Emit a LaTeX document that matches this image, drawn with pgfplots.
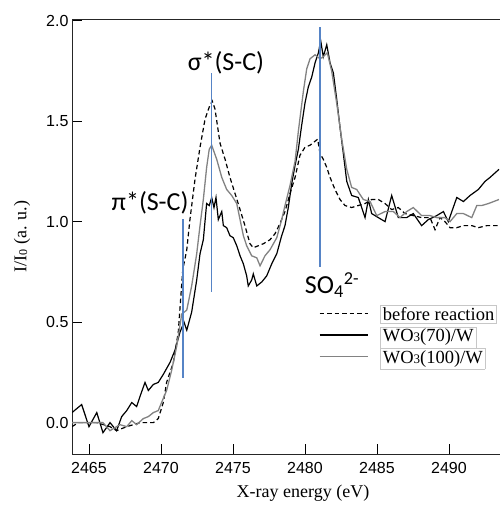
\documentclass[border=0pt]{standalone}
\usepackage{pgfplots}
\pgfplotsset{compat=1.18}
\usepackage{fontspec}
\setmainfont{Liberation Serif}
\newfontfamily\tickfont{Liberation Sans}
\newfontfamily\annfont{Carlito}
\definecolor{bl}{RGB}{86,132,198}
\definecolor{gr}{RGB}{130,130,130}
\setlength{\fboxsep}{2pt}
\setlength{\fboxrule}{0.5pt}
\begin{document}
\begin{tikzpicture}
\path[use as bounding box] (0,0) rectangle (499pt,508pt);
\begin{axis}[
  at={(72pt,54pt)}, anchor=south west,
  scale only axis, width=434.6pt, height=435pt,
  xmin=2463.82, xmax=2494.0, ymin=-0.156, ymax=2.008,
  xtick={2465,2470,2475,2480,2485,2490},
  ytick={0,0.5,1,1.5,2},
  xtick pos=bottom, ytick pos=left,
  tick align=inside, major tick length=10pt,
  every tick/.style={black, line width=0.9pt},
  axis line style={black!85, line width=0.9pt},
  tick label style={font=\tickfont\fontsize{16}{16}\selectfont},
  /pgf/number format/assume math mode=true,
  yticklabel style={/pgf/number format/.cd, fixed, fixed zerofill, precision=1},
  xticklabel style={/pgf/number format/1000 sep={}, yshift=-5pt},
  xlabel={X-ray energy (eV)},
  ylabel={I/I\raisebox{-0.05em}{\fontsize{12}{12}\selectfont 0} (a. u.)},
  label style={font=\fontsize{18}{18}\selectfont},
  xlabel style={at={(axis description cs:0.5315,0)}, anchor=north, yshift=-27pt},
  ylabel style={at={(axis description cs:-0.115,0.5)}, anchor=center},
  legend style={at={(axis cs:2493.33,0.586)}, anchor=north east, draw=none, fill=none,
    inner sep=0pt, row sep=4.5pt, column sep=12pt,
    font=\fontsize{18.5}{18.5}\selectfont, nodes={inner sep=0pt}},
  legend cell align=left,
  legend image code/.code={\draw[#1] (0pt,0pt) -- (48pt,0pt);},
]
% before reaction (dashed)
\addplot[black, line width=1.2pt, dash pattern=on 4.5pt off 3pt] coordinates {
(2463.82,-0.02) (2464.26,0.0) (2464.73,0.0) (2465.54,0.0) (2466.46,-0.02) (2466.92,-0.04)
(2467.62,-0.02) (2468.54,0.0) (2469.47,0.0) (2469.81,0.02) (2470.16,0.10) (2470.39,0.20)
(2470.86,0.30) (2471.20,0.45) (2471.51,0.76) (2471.79,0.86) (2472.01,1.01) (2472.36,1.21)
(2472.71,1.37) (2473.06,1.51) (2473.35,1.57) (2473.56,1.60) (2473.75,1.56) (2474.10,1.39)
(2474.45,1.31) (2474.79,1.22) (2475.14,1.14) (2475.49,1.06) (2475.83,0.98) (2476.18,0.89)
(2476.41,0.87) (2476.76,0.88) (2477.11,0.89) (2477.57,0.91) (2477.92,0.94) (2478.26,0.99)
(2478.61,1.05) (2478.96,1.14) (2479.31,1.22) (2479.65,1.33) (2480.00,1.37) (2480.35,1.38)
(2480.70,1.40) (2480.88,1.41) (2481.04,1.34) (2481.27,1.31) (2481.51,1.27) (2481.74,1.22)
(2482.08,1.16) (2482.43,1.11) (2482.78,1.08) (2483.24,1.07) (2483.70,1.08) (2484.17,1.09)
(2484.63,1.11) (2485.09,1.11) (2485.56,1.09) (2486.02,1.06) (2486.48,1.07) (2486.95,1.04)
(2487.52,1.03) (2488.10,1.02) (2488.68,1.02) (2489.03,0.96) (2489.38,1.02) (2489.72,1.00)
(2490.07,0.97) (2490.54,0.97) (2491.00,0.98) (2491.58,0.98) (2492.04,0.97) (2492.62,0.98)
(2493.47,0.98)
};
\addlegendentry{\fcolorbox{black!22}{white}{before reaction}}
% WO3(70)/W (black)
\addplot[black, line width=1.2pt] coordinates {
(2463.82,0.05) (2464.49,0.09) (2465.00,-0.02) (2465.54,0.05) (2465.97,-0.05) (2466.46,0.0)
(2466.92,-0.04) (2467.27,0.03) (2467.62,0.06) (2467.97,0.10) (2468.31,0.08) (2468.54,0.13)
(2468.89,0.20) (2469.12,0.16) (2469.47,0.19) (2469.81,0.20) (2470.16,0.24) (2470.63,0.30)
(2470.97,0.36) (2471.32,0.45) (2471.60,0.50) (2471.79,0.46) (2472.13,0.55) (2472.48,0.71)
(2472.71,0.84) (2472.94,0.91) (2473.17,1.09) (2473.35,1.08) (2473.52,1.12) (2473.68,1.07)
(2473.82,1.12) (2473.98,1.01) (2474.22,1.05) (2474.33,0.98) (2474.56,0.97) (2474.79,0.93)
(2475.02,0.92) (2475.26,0.88) (2475.49,0.83) (2475.72,0.79) (2475.95,0.73) (2476.06,0.68)
(2476.30,0.71) (2476.41,0.74) (2476.65,0.68) (2477.00,0.70) (2477.34,0.73) (2477.69,0.79)
(2478.04,0.84) (2478.38,0.93) (2478.61,0.98) (2478.84,1.07) (2479.08,1.19) (2479.31,1.28)
(2479.54,1.36) (2479.77,1.48) (2480.00,1.59) (2480.23,1.67) (2480.47,1.72) (2480.70,1.79)
(2480.93,1.84) (2481.09,1.90) (2481.27,1.82) (2481.51,1.88) (2481.74,1.79) (2481.97,1.74)
(2482.20,1.61) (2482.43,1.47) (2482.66,1.34) (2482.90,1.20) (2483.24,1.13) (2483.70,1.12)
(2484.17,1.02) (2484.40,1.11) (2484.63,1.04) (2485.09,1.02) (2485.56,1.00) (2486.02,1.13)
(2486.48,1.02) (2487.06,1.02) (2487.52,1.04) (2488.10,0.98) (2488.56,1.01) (2489.15,1.03)
(2489.61,1.05) (2489.95,1.00) (2490.54,1.12) (2491.00,1.10) (2491.46,1.13) (2492.04,1.16)
(2492.50,1.20) (2492.85,1.22) (2493.47,1.26)
};
\addlegendentry{\fcolorbox{black!22}{white}{WO{\fontsize{13}{13}\selectfont 3}(70)/W}}
% WO3(100)/W (gray)
\addplot[gr, line width=1.3pt] coordinates {
(2463.82,0.0) (2465.20,0.0) (2465.97,0.0) (2466.46,-0.04) (2467.15,-0.01) (2467.62,-0.02)
(2467.97,0.01) (2468.31,-0.01) (2468.77,0.02) (2469.12,0.03) (2469.47,0.05) (2469.81,0.06)
(2470.04,0.10) (2470.39,0.16) (2470.74,0.26) (2471.09,0.38) (2471.44,0.54) (2471.79,0.56)
(2472.13,0.68) (2472.48,0.84) (2472.71,0.98) (2472.94,1.11) (2473.17,1.27) (2473.35,1.36)
(2473.52,1.38) (2473.87,1.31) (2474.22,1.22) (2474.56,1.16) (2474.91,1.13) (2475.26,1.09)
(2475.49,1.01) (2475.72,0.93) (2475.95,0.88) (2476.30,0.83) (2476.65,0.82) (2476.88,0.78)
(2477.22,0.83) (2477.57,0.86) (2478.04,0.92) (2478.38,1.01) (2478.61,1.08) (2478.96,1.18)
(2479.31,1.30) (2479.54,1.45) (2479.89,1.65) (2480.12,1.76) (2480.35,1.81) (2480.70,1.83)
(2481.04,1.81) (2481.27,1.82) (2481.55,1.84) (2481.85,1.75) (2482.20,1.59) (2482.55,1.41)
(2482.90,1.26) (2483.24,1.17) (2483.59,1.16) (2484.05,1.11) (2484.52,1.10) (2484.98,1.03)
(2485.56,1.05) (2486.14,1.05) (2486.60,1.02) (2487.06,1.05) (2487.52,1.07) (2488.10,1.03)
(2488.68,1.03) (2489.15,1.02) (2489.72,1.02) (2490.07,1.00) (2490.54,1.04) (2491.00,1.04)
(2491.58,1.02) (2491.93,1.08) (2492.27,1.08) (2492.74,1.09) (2493.47,1.11)
};
\addlegendentry{\fcolorbox{black!22}{white}{WO{\fontsize{13}{13}\selectfont 3}(100)/W}}
% marker lines
\addplot[bl, line width=1.15pt, forget plot] coordinates {(2471.53,0.224) (2471.53,1.013)};
\addplot[bl, line width=1.15pt, forget plot] coordinates {(2473.52,0.652) (2473.52,1.738)};
\addplot[bl, line width=1.15pt, forget plot] coordinates {(2481.04,0.776) (2481.04,1.967)};
\node[font=\annfont\fontsize{26}{26}\selectfont] at (axis cs:2474.51,1.79) {σ*(S-C)};
\node[font=\annfont\fontsize{26}{26}\selectfont] at (axis cs:2469.24,1.093) {π*(S-C)};
\node[font=\annfont\fontsize{26}{26}\selectfont] at (axis cs:2481.88,0.685) {SO\textsubscript{4}\textsuperscript{2-}};
\end{axis}
\end{tikzpicture}
\end{document}
